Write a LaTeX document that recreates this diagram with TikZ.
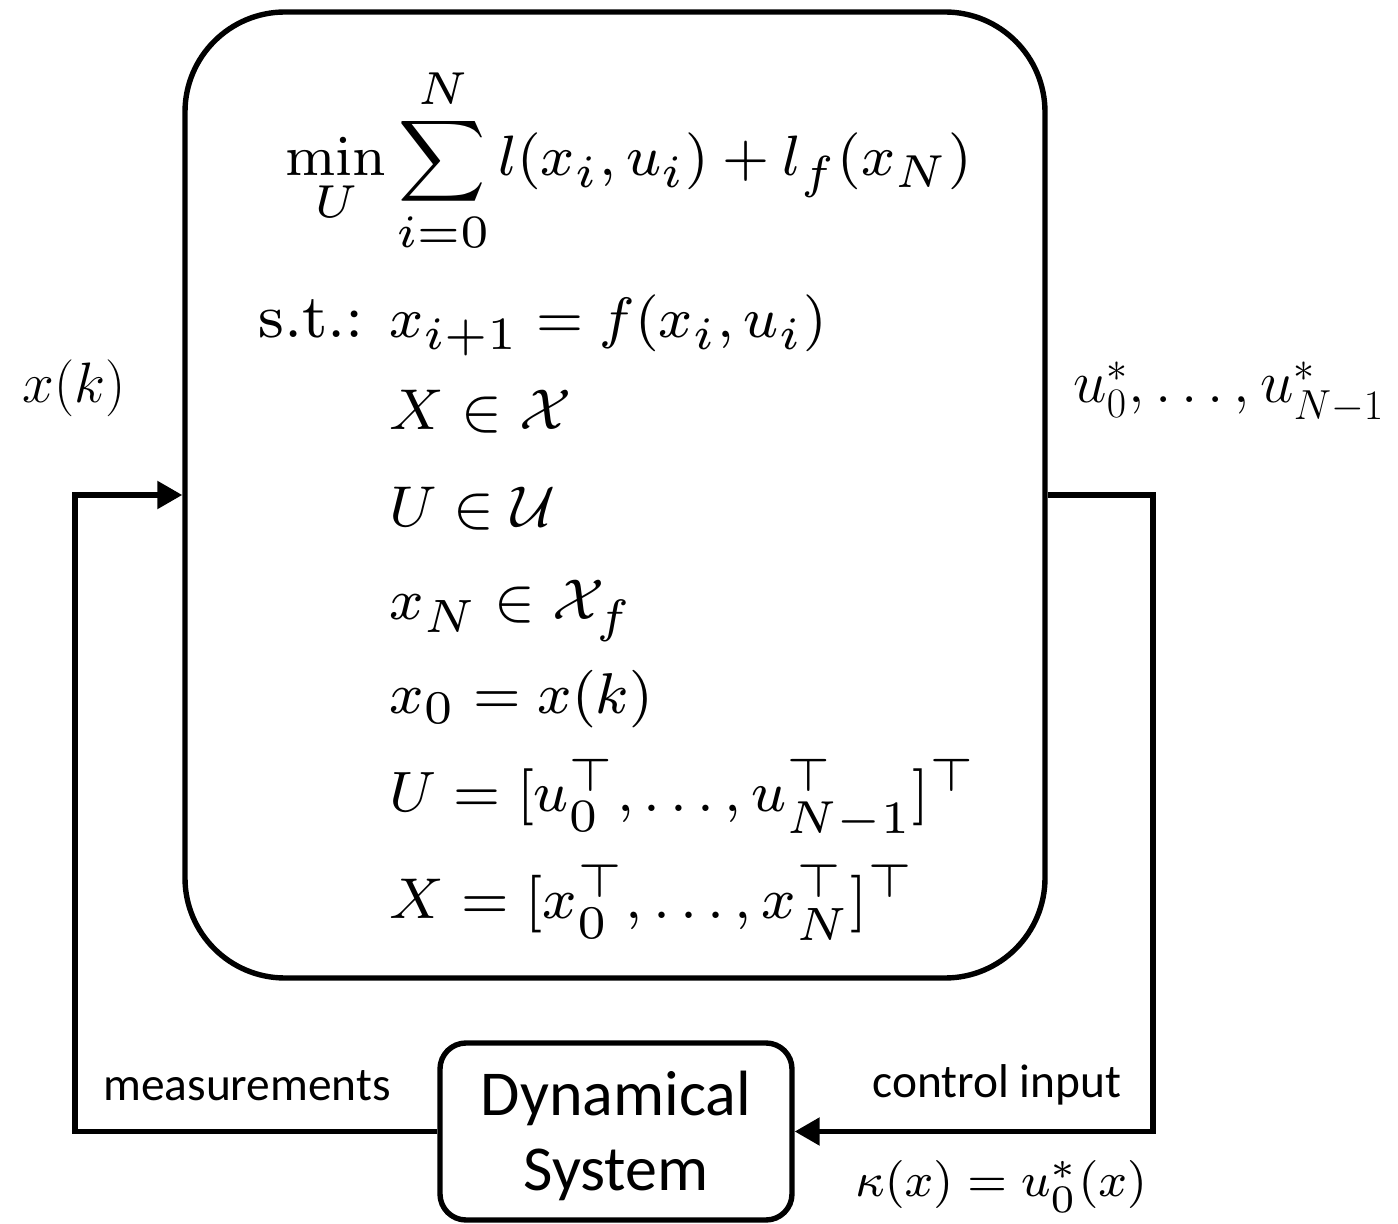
\documentclass[tikz,border=0pt]{standalone}
\usepackage{fix-cm}
\usepackage{amsmath,amssymb}
\usepackage[no-math]{fontspec}
\setsansfont{Carlito}
\usetikzlibrary{arrows.meta}
\DeclareMathSizes{8}{8}{6.5}{5}
\newcommand{\smallmath}[2]{\scalebox{#1}{\fontsize{8}{9.5}\selectfont$#2$}}
\tikzset{
  box/.style={draw, line width=2.7pt, inner sep=0pt},
  wire/.style={line width=2.7pt},
  arr/.style={wire, -{Triangle[length=12.5pt,width=13.5pt]}},
  mathtxt/.style={inner sep=0pt},
  sanstxt/.style={inner sep=0pt, font=\fontsize{23.7}{28}\selectfont\sffamily},
  systxt/.style={inner sep=0pt, font=\fontsize{32}{38}\selectfont\sffamily}
}
\begin{document}
\begin{tikzpicture}[x=0.5pt,y=-0.5pt]
\useasboundingbox (0,0) rectangle (1398,1224);
% main optimisation box
\node[box, rounded corners=50pt, minimum width=430pt, minimum height=483pt] (opt) at (615,495) {};
% dynamical system box
\node[box, rounded corners=13pt, minimum width=176pt, minimum height=88.5pt] (sys) at (616,1131.5) {};
\node[systxt, anchor=base] (t1) at (616,1115) {Dynamical};
\node[systxt, anchor=base] (t2) at (616,1190) {System};
% math lines
\node[mathtxt, anchor=base west] (m1) at (285,176) {\smallmath{3.56}{\displaystyle\min_U \sum_{i=0}^{N} l(x_i,u_i)+l_f(x_N)}};
\node[mathtxt, anchor=base west] (m2) at (258,338) {\smallmath{3.85}{\text{s.t.:}}};
\node[mathtxt, anchor=base west] (m3) at (389,338) {\smallmath{3.56}{x_{i+1}=f(x_i,u_i)}};
\node[mathtxt, anchor=base west] (m4) at (389,430) {\smallmath{3.6}{X\in\mathcal{X}}};
\node[mathtxt, anchor=base west] (m5) at (389,527) {\smallmath{3.6}{U\in\mathcal{U}}};
\node[mathtxt, anchor=base west] (m6) at (389,620) {\smallmath{3.6}{x_N\in\mathcal{X}_f}};
\node[mathtxt, anchor=base west] (m7) at (389,713) {\smallmath{3.6}{x_0=x(k)}};
\node[mathtxt, anchor=base west] (m8) at (389,812) {\smallmath{3.56}{U=[u_0^\top,\dots,u_{N-1}^\top]^\top}};
\node[mathtxt, anchor=base west] (m9) at (389,918) {\smallmath{3.6}{X=[x_0^\top,\dots,x_N^\top]^\top}};
% side labels
\node[mathtxt, anchor=base west, font=\fontsize{28.5}{34}\selectfont] (xk) at (22,403) {$x(k)$};
\node[mathtxt, anchor=base west, font=\fontsize{30}{36}\selectfont] (us) at (1073,403) {$u_0^*,\dots,u_{N-1}^*$};
\node[sanstxt, anchor=base] (meas) at (247,1100) {measurements};
\node[sanstxt, anchor=base] (ctrl) at (997,1097) {control input};
\node[mathtxt, anchor=base west] (kap) at (855,1196) {\smallmath{3.0}{\kappa(x)=u_0^*(x)}};
% connectors
\coordinate (lc) at (75,1131.5);
\coordinate (rc) at (1153,495);
\draw[arr] (sys.west) -- (lc) |- (opt.west);
\draw[arr] (opt.east) -- (rc) |- (sys.east);
\end{tikzpicture}
\end{document}
